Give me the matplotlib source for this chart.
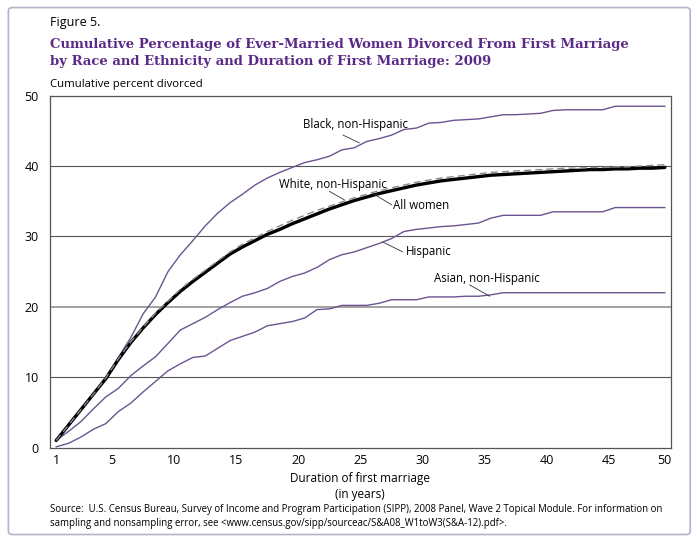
import matplotlib
matplotlib.use("Agg")
import matplotlib.pyplot as plt
from matplotlib.patches import FancyBboxPatch

years = list(range(1, 51))

all_women = [1.0, 3.2, 5.4, 7.6, 9.8, 12.5, 14.9, 17.0, 18.9, 20.6,
             22.2, 23.6, 24.9, 26.2, 27.5, 28.5, 29.4, 30.3, 31.0, 31.8,
             32.5, 33.2, 33.9, 34.5, 35.1, 35.6, 36.1, 36.5, 36.9, 37.3,
             37.6, 37.9, 38.1, 38.3, 38.5, 38.7, 38.8, 38.9, 39.0, 39.1,
             39.2, 39.3, 39.4, 39.5, 39.5, 39.6, 39.6, 39.7, 39.7, 39.8]

white_nh = [1.0, 3.2, 5.4, 7.6, 9.9, 12.6, 15.0, 17.1, 19.1, 20.8,
            22.5, 23.9, 25.2, 26.5, 27.8, 28.9, 29.8, 30.7, 31.5, 32.3,
            33.0, 33.7, 34.3, 34.9, 35.5, 36.0, 36.5, 36.9, 37.3, 37.7,
            38.0, 38.3, 38.5, 38.7, 38.9, 39.1, 39.2, 39.3, 39.4, 39.5,
            39.6, 39.7, 39.7, 39.8, 39.8, 39.9, 39.9, 40.0, 40.1, 40.2]

black_nh = [1.0, 3.1, 5.3, 7.5, 9.9, 12.8, 15.6, 19.0, 21.4, 25.0,
            27.4, 29.4, 31.5, 33.3, 34.8, 36.0, 37.3, 38.3, 39.1, 39.8,
            40.5, 40.9, 41.4, 42.3, 42.6, 43.5, 43.9, 44.4, 45.2, 45.4,
            46.1, 46.2, 46.5, 46.6, 46.7, 47.0, 47.3, 47.3, 47.4, 47.5,
            47.9, 48.0, 48.0, 48.0, 48.0, 48.5, 48.5, 48.5, 48.5, 48.5]

hispanic = [1.0, 2.3, 3.7, 5.5, 7.2, 8.4, 10.2, 11.6, 12.9, 14.8,
            16.7, 17.6, 18.5, 19.6, 20.6, 21.5, 22.0, 22.6, 23.6, 24.3,
            24.8, 25.6, 26.7, 27.4, 27.8, 28.4, 29.0, 29.7, 30.7, 31.0,
            31.2, 31.4, 31.5, 31.7, 31.9, 32.6, 33.0, 33.0, 33.0, 33.0,
            33.5, 33.5, 33.5, 33.5, 33.5, 34.1, 34.1, 34.1, 34.1, 34.1]

asian_nh = [0.1, 0.6, 1.5, 2.6, 3.4, 5.1, 6.3, 7.9, 9.4, 10.9,
            11.9, 12.8, 13.0, 14.1, 15.2, 15.8, 16.4, 17.3, 17.6, 17.9,
            18.4, 19.6, 19.7, 20.2, 20.2, 20.2, 20.5, 21.0, 21.0, 21.0,
            21.4, 21.4, 21.4, 21.5, 21.5, 21.7, 22.0, 22.0, 22.0, 22.0,
            22.0, 22.0, 22.0, 22.0, 22.0, 22.0, 22.0, 22.0, 22.0, 22.0]

x_tick_labels = ["1", "5", "10", "15", "20", "25", "30", "35", "40", "45", "50"]
y_ticks = [0, 10, 20, 30, 40, 50]

PURPLE = "#6c5491"
TITLE_PURPLE = "#5b2a86"
SANS = ["Open Sans", "DejaVu Sans"]

fig = plt.figure(figsize=(7.0, 5.41), dpi=100)
fig.patches.append(FancyBboxPatch((0.012, 0.012), 0.974, 0.974,
                                  boxstyle="round,pad=0,rounding_size=0.006",
                                  transform=fig.transFigure, fill=False,
                                  edgecolor="#b8b0c8", linewidth=1.2))

ax = fig.add_axes([0.0714, 0.1728, 0.8872, 0.6503])
xs = [y - 0.5 for y in years]

ax.plot(xs, asian_nh, color=PURPLE, lw=1.0, zorder=3)
ax.plot(xs, hispanic, color=PURPLE, lw=1.0, zorder=3)
ax.plot(xs, black_nh, color=PURPLE, lw=1.0, zorder=3)
ax.plot(xs, all_women, color="black", lw=2.4, zorder=4, solid_capstyle="round")
ax.plot(xs, white_nh, color="#8a8a96", lw=1.0, ls=(0, (5, 3)), zorder=5)

ax.set_xlim(0, 50)
ax.set_ylim(0, 50)
for v in [10, 20, 30, 40]:
    ax.axhline(v, color="#9a9a9a" if v == 20 else "#555555",
               lw=1.3 if v == 20 else 0.8, zorder=1)

for s in ax.spines.values():
    s.set_color("#555555")
    s.set_linewidth(0.9)

ax.set_yticks(y_ticks)
ax.set_yticklabels([str(v) for v in y_ticks], fontsize=9, family=SANS)
ax.tick_params(axis="y", length=0, pad=8)

tick_pos = [0.5] + [int(t) for t in x_tick_labels[1:-1]] + [49.5]
ax.set_xticks(tick_pos)
ax.set_xticklabels(x_tick_labels, fontsize=9, family=SANS)
ax.tick_params(axis="x", length=0, pad=5)
ax.set_xticks([int(t) for t in x_tick_labels[1:-1]], minor=True)
ax.tick_params(axis="x", which="minor", direction="in", length=7,
               color="#555555", width=0.9)

# Labels with leader lines
labels = [
    ("Black, non-Hispanic", (20.4, 45.85), (23.6, 44.4), (24.9, 43.3)),
    ("White, non-Hispanic", (18.45, 37.4), (22.5, 36.4), (23.7, 35.2)),
    ("All women", (27.6, 34.4), (27.5, 34.5), (26.0, 36.1)),
    ("Hispanic", (28.65, 27.9), (28.4, 27.8), (26.8, 29.2)),
    ("Asian, non-Hispanic", (30.9, 24.0), (33.8, 23.1), (35.4, 21.5)),
]
for txt, tpos, p0, p1 in labels:
    ax.text(tpos[0], tpos[1], txt, fontsize=8.3, family=SANS,
            ha="left", va="center", zorder=6)
    ax.plot([p0[0], p1[0]], [p0[1], p1[1]], color="#333333", lw=0.6, zorder=6)

fig.text(0.0714, 1 - 85 / 541, "Cumulative percent divorced",
         fontsize=8.2, family=SANS, ha="left", va="center")

fig.text(0.5143, 0.116, "Duration of first marriage", fontsize=8.5,
         family=SANS, ha="center", va="center")
fig.text(0.5143, 0.086, "(in years)", fontsize=8.5, family=SANS,
         ha="center", va="center")

fig.text(0.0714, 0.958, "Figure 5.", fontsize=9, family=SANS,
         ha="left", va="center")
fig.text(0.0714, 0.918, "Cumulative Percentage of Ever-Married Women Divorced From First Marriage",
         fontsize=9.5, family=["DejaVu Serif"], weight="bold", color=TITLE_PURPLE,
         ha="left", va="center")
fig.text(0.0714, 0.887, "by Race and Ethnicity and Duration of First Marriage: 2009",
         fontsize=9.5, family=["DejaVu Serif"], weight="bold", color=TITLE_PURPLE,
         ha="left", va="center")

fig.text(0.0714, 0.059,
         "Source:  U.S. Census Bureau, Survey of Income and Program Participation (SIPP), 2008 Panel, Wave 2 Topical Module. For information on",
         fontsize=6.95, family=SANS, ha="left", va="center")
fig.text(0.0714, 0.033,
         "sampling and nonsampling error, see <www.census.gov/sipp/sourceac/S&A08_W1toW3(S&A-12).pdf>.",
         fontsize=6.95, family=SANS, ha="left", va="center")

fig.savefig("out.png", dpi=100)
